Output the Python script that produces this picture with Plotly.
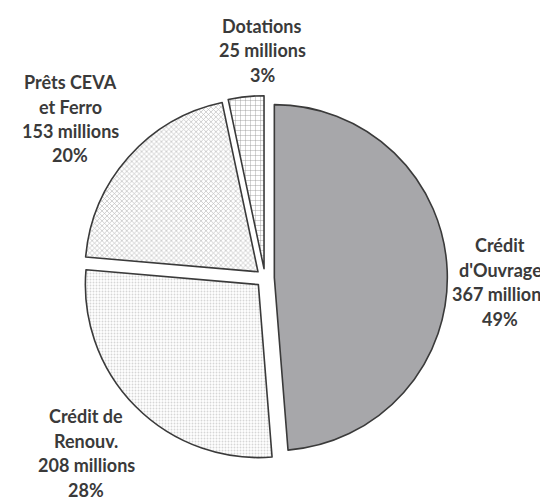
import plotly.graph_objects as go

labels = ["Crédit d'Ouvrage", "Crédit de Renouv.", "Prêts CEVA et Ferro", "Dotations"]
label_lines = [["Crédit", "d'Ouvrage"], ["Crédit de", "Renouv."], ["Prêts CEVA", "et Ferro"], ["Dotations"]]
values = [367, 208, 153, 25]
units = "millions"

fill_colors = ["#a7a7aa", "#ffffff", "#e8e8e8", "#ffffff"]
pattern_shapes = ["", ".", "x", "+"]
pattern_fg = ["#a7a7aa", "#d6d6d6", "#bcbcbc", "#8c8c8c"]
pattern_size = [6, 3, 3.5, 5]
pattern_solidity = [0.3, 0.3, 0.35, 0.15]

# label block placement in pixels: (x center, y of first line from top)
label_pos = [(492, 237), (78, 408), (62, 74), (254, 18)]
line_gap = 24.5

W, H = 548, 500
cx, cy, R, pull = 257, 270, 173, 0.054
half = R * (1 + pull)

fig = go.Figure(go.Pie(
    labels=labels,
    values=values,
    sort=False,
    direction="clockwise",
    rotation=0,
    pull=[pull] * len(values),
    textinfo="none",
    hoverinfo="label+value+percent",
    marker=dict(
        colors=fill_colors,
        line=dict(color="#3a3a3a", width=1.6),
        pattern=dict(shape=pattern_shapes, fgcolor=pattern_fg, size=pattern_size,
                     solidity=pattern_solidity, fillmode="replace"),
    ),
    domain=dict(x=[(cx - half) / W, (cx + half) / W],
                y=[(H - cy - half) / H, (H - cy + half) / H]),
    showlegend=False,
))

total = sum(values)
annotations = []
for lines, v, (lx, ly) in zip(label_lines, values, label_pos):
    full = lines + [f"{v} {units}", f"{round(100 * v / total)}%"]
    for i, t in enumerate(full):
        annotations.append(dict(
            text=f"<b>{t}</b>", x=lx / W, y=1 - (ly + i * line_gap) / H,
            xref="paper", yref="paper", xanchor="center", yanchor="middle",
            showarrow=False, font=dict(family="Lato", size=18, color="#3a3a3a"),
        ))

fig.update_layout(
    width=W, height=H,
    margin=dict(l=0, r=0, t=0, b=0),
    paper_bgcolor="white", plot_bgcolor="white",
    annotations=annotations,
)

fig.write_html("out.html")
